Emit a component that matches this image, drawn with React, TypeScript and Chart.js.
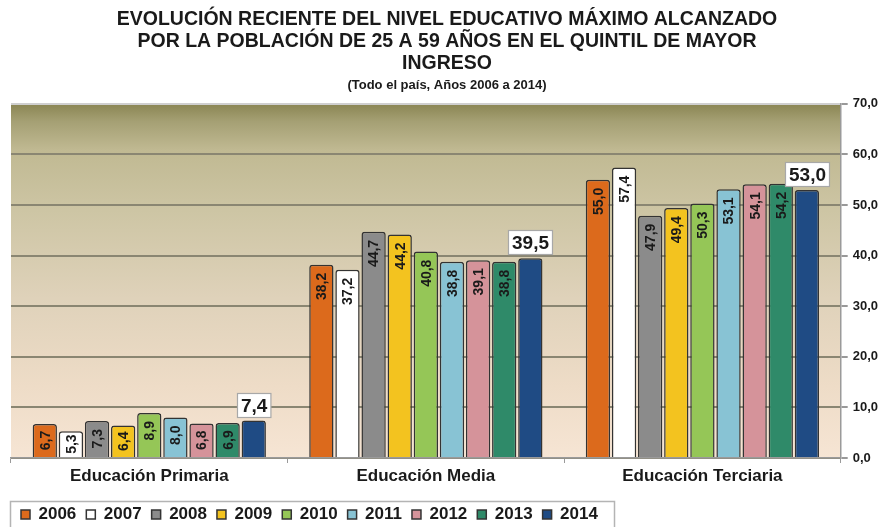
import React, { useEffect, useRef } from 'react';
import { Chart, registerables } from 'chart.js';

Chart.register(...registerables);

// ---------- data ----------
const categories = ['Educación Primaria', 'Educación Media', 'Educación Terciaria'];
const years = ['2006', '2007', '2008', '2009', '2010', '2011', '2012', '2013', '2014'];
const v2006 = [6.7, 38.2, 55.0];
const v2007 = [5.3, 37.2, 57.4];
const v2008 = [7.3, 44.7, 47.9];
const v2009 = [6.4, 44.2, 49.4];
const v2010 = [8.9, 40.8, 50.3];
const v2011 = [8.0, 38.8, 53.1];
const v2012 = [6.8, 39.1, 54.1];
const v2013 = [6.9, 38.8, 54.2];
const v2014 = [7.4, 39.5, 53.0];
const seriesValues = [v2006, v2007, v2008, v2009, v2010, v2011, v2012, v2013, v2014];
const yMin = 0;
const yMax = 70;
const yStep = 10;
const titleLines = [
  'EVOLUCIÓN RECIENTE DEL NIVEL EDUCATIVO MÁXIMO ALCANZADO',
  'POR LA POBLACIÓN DE 25 A 59 AÑOS EN EL QUINTIL DE MAYOR',
  'INGRESO',
];
const subtitleText = '(Todo el país, Años 2006 a 2014)';

// ---------- style ----------
const colors = ['#dc6a1c', '#ffffff', '#8b8b8b', '#f3c31f', '#95c657', '#88c3d4', '#d5939a', '#2f8a69', '#1f4b84'];
const FONT = '"Liberation Sans", Arial, Helvetica, sans-serif';
const fmt = (v: number) => Number(v).toFixed(1).replace('.', ',');

const bgPlugin = {
  id: 'plotBg',
  beforeDraw(chart: any) {
    const { ctx, chartArea: a } = chart;
    if (!a) return;
    const g = ctx.createLinearGradient(0, a.top, 0, a.bottom);
    g.addColorStop(0, '#8a8553');
    g.addColorStop(0.05, '#a5a074');
    g.addColorStop(0.13, '#c0b992');
    g.addColorStop(0.3, '#cdc5a4');
    g.addColorStop(0.55, '#dfd2ba');
    g.addColorStop(0.8, '#eedcc7');
    g.addColorStop(1, '#f6e5d4');
    ctx.save();
    ctx.fillStyle = g;
    ctx.fillRect(a.left, a.top, a.right - a.left, a.bottom - a.top);
    ctx.restore();
  },
};

const labelPlugin = {
  id: 'barLabels',
  afterDatasetsDraw(chart: any) {
    const ctx = chart.ctx;
    const last = chart.data.datasets.length - 1;
    chart.data.datasets.forEach((ds: any, i: number) => {
      const meta = chart.getDatasetMeta(i);
      meta.data.forEach((bar: any, j: number) => {
        const txt = fmt(ds.data[j]);
        const { x, y, base } = bar.getProps(['x', 'y', 'base'], true);
        ctx.save();
        if (i === last) {
          ctx.font = `bold 19px ${FONT}`;
          const w = ctx.measureText(txt).width + 7;
          const h = 24;
          const bx = Math.round(x - w / 2) + 0.5;
          const by = Math.round(y - 4 - h) + 0.5;
          ctx.fillStyle = '#ffffff';
          ctx.fillRect(bx, by, w, h);
          ctx.strokeStyle = '#a8a8a8';
          ctx.lineWidth = 1.2;
          ctx.strokeRect(bx, by, w, h);
          ctx.fillStyle = '#1a1a1a';
          ctx.textAlign = 'center';
          ctx.textBaseline = 'middle';
          ctx.fillText(txt, bx + w / 2, by + h / 2 + 1);
        } else {
          ctx.font = `bold 14px ${FONT}`;
          const len = ctx.measureText(txt).width;
          const hgt = base - y;
          let start = y + 8;
          if (hgt < len + 16) start = y + (hgt - len) / 2;
          ctx.translate(x, start + len);
          ctx.rotate(-Math.PI / 2);
          ctx.fillStyle = '#1a1a1a';
          ctx.textAlign = 'left';
          ctx.textBaseline = 'middle';
          ctx.fillText(txt, 0, 1);
        }
        ctx.restore();
      });
    });
  },
};

const legendBoxPlugin = {
  id: 'legendBox',
  afterDraw(chart: any) {
    const hb = chart.legend && chart.legend.legendHitBoxes;
    if (!hb || !hb.length) return;
    const ctx = chart.ctx;
    const left = Math.round(hb[0].left - 11) + 0.5;
    const lastBox = hb[hb.length - 1];
    const right = Math.round(lastBox.left + lastBox.width + 16) + 0.5;
    const top = Math.round(hb[0].top - 5) + 0.5;
    ctx.save();
    ctx.strokeStyle = '#b4b4b4';
    ctx.lineWidth = 1.5;
    ctx.strokeRect(left, top, right - left, chart.height - top + 10);
    ctx.restore();
  },
};

export default function App() {
  const ref = useRef<HTMLCanvasElement>(null);

  useEffect(() => {
    if (!ref.current) return;
    Chart.defaults.font.family = FONT;
    const chart = new Chart(ref.current, {
      type: 'bar',
      data: {
        labels: categories,
        datasets: years.map((yr, i) => ({
          label: yr,
          data: seriesValues[i],
          backgroundColor: colors[i],
          borderColor: '#333333',
          borderWidth: 1.5,
          borderRadius: { topLeft: 3, topRight: 3, bottomLeft: 0, bottomRight: 0 },
          borderSkipped: 'bottom',
          barPercentage: 0.93,
          categoryPercentage: 0.85,
        })),
      },
      options: {
        responsive: false,
        animation: false,
        layout: { padding: { left: 11, right: 2, top: 0, bottom: 0 } },
        plugins: {
          title: {
            display: true,
            text: titleLines,
            color: '#1a1a1a',
            font: { size: 19.5, weight: 'bold', lineHeight: 1.15, family: FONT },
            padding: { top: 8, bottom: 0 },
          },
          subtitle: {
            display: true,
            text: subtitleText,
            color: '#1a1a1a',
            font: { size: 13, weight: 'bold', lineHeight: 1.2, family: FONT },
            padding: { top: 2, bottom: 11 },
          },
          legend: {
            display: true,
            position: 'bottom',
            align: 'start',
            labels: {
              boxWidth: 9,
              boxHeight: 9,
              padding: 10,
              color: '#1a1a1a',
              font: { size: 17, weight: 'bold', family: FONT },
            },
          },
          tooltip: { enabled: false },
        },
        scales: {
          x: {
            grid: {
              display: true,
              drawOnChartArea: false,
              drawTicks: true,
              tickLength: 5,
              tickColor: '#9a9a9a',
              offset: true,
            },
            border: { display: true, color: '#9a9a9a', width: 1.5 },
            ticks: {
              color: '#1a1a1a',
              padding: 3,
              font: { size: 17, weight: 'bold', family: FONT },
            },
            afterFit: (s: any) => {
              s.height += 6.6;
            },
          },
          y: {
            position: 'right',
            min: yMin,
            max: yMax,
            ticks: {
              stepSize: yStep,
              color: '#1a1a1a',
              padding: 5,
              font: { size: 13, weight: 'bold', family: FONT },
              callback: (v: any) => fmt(Number(v)),
            },
            grid: {
              color: (c: any) => (c.tick && c.tick.value === yMax ? '#cfcfcf' : '#8a8672'),
              lineWidth: 2,
              tickLength: 7,
              tickColor: '#777777',
              tickWidth: 1.5,
            },
            border: { display: true, color: '#9a9a9a', width: 1.5 },
          },
        },
      },
      plugins: [bgPlugin, labelPlugin, legendBoxPlugin],
    } as any);
    return () => chart.destroy();
  }, []);

  return (
    <div
      style={{
        position: 'absolute',
        left: 0,
        top: 0,
        width: 885,
        height: 527,
        overflow: 'hidden',
        background: '#ffffff',
      }}
    >
      <canvas ref={ref} width={885} height={533} style={{ display: 'block' }} />
    </div>
  );
}
